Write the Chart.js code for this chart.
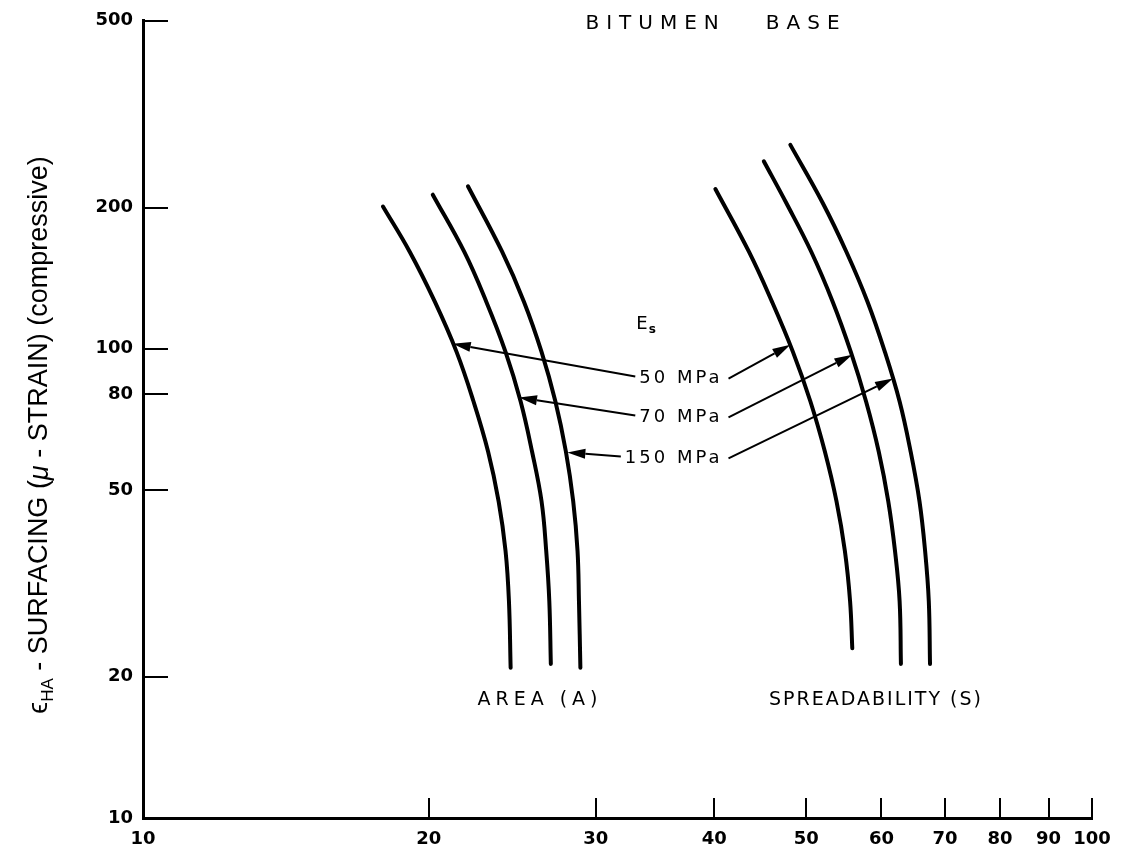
<!DOCTYPE html>
<html>
<head>
<meta charset="utf-8">
<script src="https://cdn.jsdelivr.net/npm/chart.js@4.4.1/dist/chart.umd.min.js"></script>
<style>
  html, body { margin: 0; padding: 0; background: #fff; }
  #wrap { width: 1126px; height: 856px; }
</style>
</head>
<body>
<div id="wrap"><canvas id="chart"></canvas></div>
<script>
// tick values on both log axes
const xTicks = [10, 20, 30, 40, 50, 60, 70, 80, 90, 100];
const yTicks = [10, 20, 50, 80, 100, 200, 500];

// AREA (A) curves, one per subgrade modulus Es
const area50x  = [17.9, 19.1, 20.3, 21.4, 22.3, 23.1, 23.7, 24.1, 24.3, 24.4];
const area50y  = [201, 161, 126, 98.5, 77.2, 60.4, 47.3, 37.1, 29.0, 20.9];
const area70x  = [20.2, 21.8, 23.0, 24.1, 25.0, 25.7, 26.3, 26.6, 26.8, 26.9];
const area70y  = [213, 161, 126, 98.5, 77.2, 60.4, 47.3, 37.1, 29.0, 21.3];
const area150x = [22.0, 23.9, 25.2, 26.3, 27.2, 27.9, 28.4, 28.7, 28.8, 28.9];
const area150y = [222, 161, 126, 98.5, 77.2, 60.4, 47.3, 37.1, 29.0, 20.9];

// SPREADABILITY (S) curves
const spread50x  = [40.1, 43.5, 46.0, 48.4, 50.5, 52.3, 53.8, 54.9, 55.6, 55.9];
const spread50y  = [219, 161, 126, 98.5, 77.2, 60.4, 47.3, 37.1, 29.0, 23.0];
const spread70x  = [45.1, 47.6, 50.6, 53.3, 55.7, 57.8, 59.6, 61.0, 62.0, 62.7, 62.9];
const spread70y  = [251, 205, 161, 126, 98.5, 77.2, 60.4, 47.3, 37.1, 29.0, 21.3];
const spread150x = [48.1, 52.0, 55.1, 58.0, 60.5, 62.7, 64.4, 65.8, 66.7, 67.3, 67.5];
const spread150y = [272, 205, 161, 126, 98.5, 77.2, 60.4, 47.3, 37.1, 29.0, 21.3];

// Es labels and where their arrows point (data coords)
const esLabels = ['50 MPa', '70 MPa', '150 MPa'];
const esLabelY = [86.4, 71.4, 58.4];
const areaTips = [[21.2, 102.5], [24.9, 78.7], [28.0, 60.1]];
const spreadTips = [[48.1, 102], [55.9, 97.1], [61.7, 86.4]];

const ink = '#000';
const toPts = (xs, ys) => xs.map((v, i) => ({ x: v, y: ys[i] }));
const curve = (xs, ys) => ({
  data: toPts(xs, ys),
  borderColor: ink,
  borderWidth: 4,
  borderCapStyle: 'round',
  pointRadius: 0,
  tension: 0.4,
  fill: false
});

function arrow(ctx, x1, y1, x2, y2) {
  const a = Math.atan2(y2 - y1, x2 - x1);
  const len = 18, half = 5;
  const bx = x2 - len * Math.cos(a), by = y2 - len * Math.sin(a);
  ctx.beginPath();
  ctx.moveTo(x1, y1);
  ctx.lineTo(bx, by);
  ctx.stroke();
  ctx.beginPath();
  ctx.moveTo(x2, y2);
  ctx.lineTo(bx + half * Math.sin(a), by - half * Math.cos(a));
  ctx.lineTo(bx - half * Math.sin(a), by + half * Math.cos(a));
  ctx.closePath();
  ctx.fill();
}

const overlay = {
  id: 'overlay',
  afterDraw(chart) {
    const { ctx, chartArea: area, scales: { x, y } } = chart;
    ctx.save();
    ctx.strokeStyle = ink;
    ctx.fillStyle = ink;

    // tick marks point into the plot
    ctx.lineWidth = 2;
    ctx.beginPath();
    y.ticks.forEach(t => {
      if (t.value <= y.min) return;
      const py = Math.round(y.getPixelForValue(t.value));
      ctx.moveTo(area.left, py);
      ctx.lineTo(area.left + 25, py);
    });
    x.ticks.forEach(t => {
      if (t.value <= x.min) return;
      const px = Math.round(x.getPixelForValue(t.value));
      ctx.moveTo(px, area.bottom);
      ctx.lineTo(px, area.bottom - 20);
    });
    ctx.stroke();

    // Es labels with arrows to both curve families
    ctx.font = '18px "DejaVu Sans"';
    ctx.letterSpacing = '3px';
    ctx.textBaseline = 'middle';
    ctx.textAlign = 'left';
    const labRight = x.getPixelForValue(40.8);
    esLabels.forEach((s, i) => {
      const py = y.getPixelForValue(esLabelY[i]);
      const w = ctx.measureText(s).width;
      const left = labRight - w;
      ctx.fillText(s, left, py);
      ctx.lineWidth = 2;
      arrow(ctx, left - 4, py - 2, x.getPixelForValue(areaTips[i][0]), y.getPixelForValue(areaTips[i][1]));
      arrow(ctx, labRight + 6, py, x.getPixelForValue(spreadTips[i][0]), y.getPixelForValue(spreadTips[i][1]));
    });

    // E with subscript s
    const ex = x.getPixelForValue(33.1), ey = y.getPixelForValue(113);
    ctx.letterSpacing = '0px';
    ctx.font = '18px "DejaVu Sans"';
    ctx.fillText('E', ex, ey);
    const ew = ctx.measureText('E').width;
    ctx.font = 'bold 12px "DejaVu Sans"';
    ctx.fillText('s', ex + ew + 1, ey + 6);

    // title and group labels
    ctx.textAlign = 'center';
    ctx.font = '20px "DejaVu Sans"';
    ctx.letterSpacing = '7px';
    ctx.fillText('BITUMEN   BASE', 716, 24);
    ctx.font = '19px "DejaVu Sans"';
    ctx.letterSpacing = '5px';
    ctx.fillText('AREA (A)', 540, 700);
    ctx.letterSpacing = '2px';
    ctx.fillText('SPREADABILITY (S)', 876, 700);

    // rotated y-axis title with subscript
    ctx.letterSpacing = '0px';
    ctx.translate(40, 435);
    ctx.rotate(-Math.PI / 2);
    const parts = [
      { t: '\u03F5', f: '27px "Liberation Sans"', dy: 0 },
      { t: 'HA', f: '17px "Liberation Sans"', dy: 8 },
      { t: ' - SURFACING (', f: '27px "Liberation Sans"', dy: 0 },
      { t: '\u03BC', f: 'italic 27px "Liberation Sans"', dy: 0 },
      { t: ' - STRAIN) (compressive)', f: '27px "Liberation Sans"', dy: 0 }
    ];
    let total = 0;
    parts.forEach(p => { ctx.font = p.f; p.w = ctx.measureText(p.t).width; total += p.w; });
    let cx = -total / 2;
    ctx.textAlign = 'left';
    parts.forEach(p => { ctx.font = p.f; ctx.fillText(p.t, cx, p.dy); cx += p.w; });
    ctx.restore();
  }
};

const tickFont = { family: 'DejaVu Sans', size: 18, weight: 'bold' };

new Chart(document.getElementById('chart'), {
  type: 'line',
  data: {
    datasets: [
      curve(area50x, area50y),
      curve(area70x, area70y),
      curve(area150x, area150y),
      curve(spread50x, spread50y),
      curve(spread70x, spread70y),
      curve(spread150x, spread150y)
    ]
  },
  options: {
    responsive: true,
    maintainAspectRatio: false,
    animation: false,
    devicePixelRatio: 1,
    layout: { padding: { top: 18, right: 34, left: 0, bottom: 0 } },
    plugins: { legend: { display: false }, tooltip: { enabled: false } },
    scales: {
      x: {
        type: 'logarithmic',
        min: 10,
        max: 100,
        afterBuildTicks: s => { s.ticks = xTicks.map(v => ({ value: v })); },
        afterFit: s => { s.height = 38; },
        grid: { display: false, drawTicks: false },
        border: { display: true, width: 3, color: ink },
        ticks: {
          color: ink,
          padding: 11,
          maxRotation: 0,
          autoSkip: false,
          font: tickFont,
          callback: v => String(v)
        }
      },
      y: {
        type: 'logarithmic',
        min: 10,
        max: 500,
        afterBuildTicks: s => { s.ticks = yTicks.map(v => ({ value: v })); },
        afterFit: s => { s.width = 143; },
        grid: { display: false, drawTicks: false },
        border: { display: true, width: 3, color: ink },
        ticks: {
          color: ink,
          padding: 10,
          autoSkip: false,
          font: tickFont,
          callback: v => String(v)
        }
      }
    }
  },
  plugins: [overlay]
});
</script>
</body>
</html>
